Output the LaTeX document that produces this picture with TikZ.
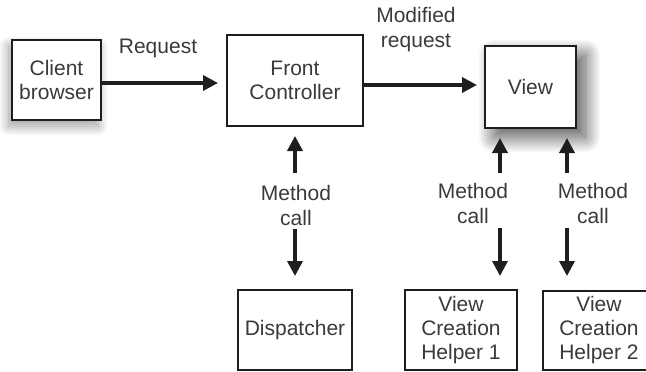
\documentclass[tikz,border=0pt]{standalone}
\usepackage{fontspec}
\setmainfont{Liberation Sans}
\usetikzlibrary{arrows.meta,shadows.blur}
\definecolor{ink}{HTML}{1E1E1E}
\definecolor{txt}{HTML}{3A3A3A}
\begin{document}
\begin{tikzpicture}[x=1pt,y=-1pt,
  box/.style={draw=ink,line width=2pt,fill=white,align=center,
    font=\fontsize{21}{24}\selectfont,text=txt,inner sep=0pt},
  lbl/.style={align=center,font=\fontsize{21}{25}\selectfont,text=txt,inner sep=0pt},
  arr/.style={draw=ink,line width=3.5pt,-{Triangle[length=15pt,width=15pt]}},
]
\useasboundingbox (0,0) rectangle (646,372);

% main request path
\node[box,minimum width=89pt,minimum height=80pt,
  blur shadow={shadow xshift=-3pt,shadow yshift=-6pt,shadow blur radius=10pt,
    shadow blur steps=30,shadow opacity=40}]
  (client) at (56.5,80) {Client\\browser};
\node[box,minimum width=136pt,minimum height=91pt] (front) at (295,80.5) {Front\\Controller};
\node[box,minimum width=91pt,minimum height=82pt,
  blur shadow={shadow xshift=9pt,shadow yshift=-9pt,shadow blur radius=16pt,
    shadow blur steps=40,shadow opacity=70}]
  (view) at (530.5,87) {View};

% collaborators
\node[box,minimum width=114pt,minimum height=80pt] (disp) at (295,330) {Dispatcher};
\node[box,minimum width=112pt,minimum height=80pt] (help1) at (461,330) {View\\Creation\\Helper 1};
\node[box,minimum width=112pt,minimum height=79pt] (help2) at (599,330.5) {View\\Creation\\Helper 2};

% horizontal flow
\draw[arr,shorten >=8pt] ([yshift=-3pt]client.east) -- ([yshift=-2.5pt]front.west);
\node[lbl] (reqlbl) at (158,48) {Request};
\draw[arr,shorten >=7pt] ([yshift=-4.5pt]front.east) -- ([yshift=2pt]view.west);
\node[lbl] (modlbl) at (416,30) {Modified\\request};

% method calls
\node[lbl] (mc0) at (296,205) {Method\\call};
\node[lbl] (mc1) at (473,203) {Method\\call};
\node[lbl] (mc2) at (593,203) {Method\\call};

\coordinate (u0) at (295,173);
\coordinate (d0) at (295,229);
\coordinate (u1) at (500,173);
\coordinate (d1) at (500,228);
\coordinate (u2) at (567,173);
\coordinate (d2) at (567,228);

\draw[arr,shorten >=9pt] (u0) -- (u0 |- front.south);
\draw[arr,shorten >=13pt] (d0) -- (d0 |- disp.north);
\draw[arr,shorten >=9pt] (u1) -- (u1 |- view.south);
\draw[arr,shorten >=13pt] (d1) -- (d1 |- help1.north);
\draw[arr,shorten >=9pt] (u2) -- (u2 |- view.south);
\draw[arr,shorten >=14pt] (d2) -- (d2 |- help2.north);
\end{tikzpicture}
\end{document}
